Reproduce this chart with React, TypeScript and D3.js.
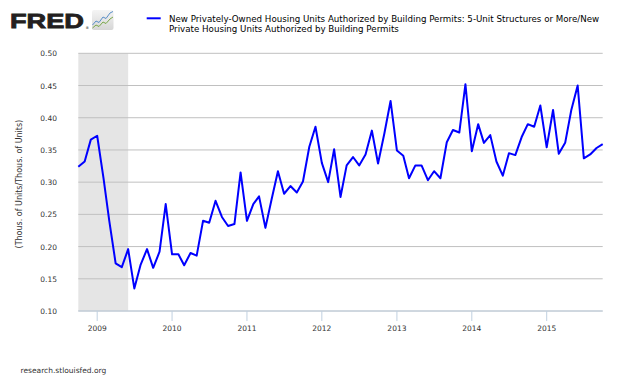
import React from "react";
import * as d3 from "d3";

const startMonth = "2008-10-01";
const ratioValues: number[] = [
  0.324, 0.332, 0.366, 0.372, 0.306, 0.240, 0.174, 0.168, 0.196, 0.135,
  0.172, 0.196, 0.167, 0.192, 0.266, 0.188, 0.188, 0.171, 0.190, 0.186,
  0.240, 0.237, 0.271, 0.246, 0.232, 0.235, 0.315, 0.240, 0.266, 0.278,
  0.229, 0.273, 0.317, 0.282, 0.294, 0.284, 0.301, 0.355, 0.386, 0.330,
  0.300, 0.351, 0.277, 0.326, 0.339, 0.326, 0.343, 0.380, 0.329, 0.376,
  0.426, 0.349, 0.341, 0.306, 0.326, 0.326, 0.303, 0.317, 0.306, 0.362,
  0.381, 0.377, 0.452, 0.348, 0.390, 0.361, 0.373, 0.332, 0.310, 0.345,
  0.342, 0.370, 0.390, 0.386, 0.419, 0.354, 0.412, 0.344, 0.361, 0.412,
  0.450, 0.337, 0.343, 0.353, 0.359,
];
const yTicks: number[] = [0.1, 0.15, 0.2, 0.25, 0.3, 0.35, 0.4, 0.45, 0.5];
const xTickYears: number[] = [2009, 2010, 2011, 2012, 2013, 2014, 2015];
const recession = { start: "2007-12-01", end: "2009-06-01" };
const legendLines: string[] = [
  "New Privately-Owned Housing Units Authorized by Building Permits: 5-Unit Structures or More/New",
  "Private Housing Units Authorized by Building Permits",
];
const yAxisTitle = "(Thous. of Units/Thous. of Units)";
const footer = "research.stlouisfed.org";

const W = 630;
const H = 378;
const plot = { left: 78.3, right: 602.7, top: 53.3, bottom: 311 };
const FONT = "'DejaVu Sans', sans-serif";

export default function App() {
  const start = new Date(startMonth + "T00:00:00");
  const dates = ratioValues.map((_, i) => d3.timeMonth.offset(start, i));
  const data = ratioValues.map((v, i) => ({ date: dates[i], v }));

  const x = d3
    .scaleTime()
    .domain([dates[0], dates[dates.length - 1]])
    .range([plot.left, plot.right]);
  const y = d3.scaleLinear().domain([0.1, 0.5]).range([plot.bottom, plot.top]);

  const line = d3
    .line<{ date: Date; v: number }>()
    .x((d) => x(d.date))
    .y((d) => y(d.v));

  const recStart = Math.max(plot.left, x(new Date(recession.start + "T00:00:00")));
  const recEnd = x(new Date(recession.end + "T00:00:00"));

  return (
    <div style={{ position: "fixed", left: 0, top: 0, width: W, height: H, background: "#fff" }}>
      <svg width={W} height={H} style={{ display: "block" }}>
        <rect x={0} y={0} width={W} height={H} fill="#fff" />
        {/* FRED logo */}
        <text
          x={10}
          y={27.8}
          fontFamily="'Liberation Sans', Arial, sans-serif"
          fontWeight={900}
          fontSize={20}
          fill="#231f20"
          textLength={74}
          lengthAdjust="spacingAndGlyphs"
          stroke="#231f20"
          strokeWidth={0.8}
        >
          FRED
        </text>
        <text x={85.5} y={28.5} fontFamily={FONT} fontSize={3.5} fill="#231f20">
          ®
        </text>
        <defs>
          <linearGradient id="iconbg" x1="0" y1="0" x2="0" y2="1">
            <stop offset="0" stopColor="#f4f4f4" />
            <stop offset="1" stopColor="#d6d6d6" />
          </linearGradient>
        </defs>
        <rect x={92} y={10} width={21.5} height={20} rx={2} fill="url(#iconbg)" />
        <polyline
          points="92.5,25 96,21 99,22.5 103,17 106,18.5 110,13 113,11.5"
          fill="none"
          stroke="#5a8fc8"
          strokeWidth={1}
        />
        <polyline
          points="92.5,28 96,25 99,26.5 103,22 106,23.5 110,19 113,17"
          fill="none"
          stroke="#7aa84a"
          strokeWidth={1}
        />

        {/* legend */}
        <line x1={146.7} x2={160.7} y1={18.3} y2={18.3} stroke="#0000ff" strokeWidth={2} />
        {legendLines.map((t, i) => (
          <text key={i} x={169} y={21.5 + i * 10.8} fontFamily={FONT} fontSize={8.7} fill="#000">
            {t}
          </text>
        ))}

        {/* recession band */}
        <rect
          x={recStart}
          y={plot.top}
          width={recEnd - recStart}
          height={plot.bottom - plot.top}
          fill="#e5e5e5"
        />

        {/* gridlines */}
        {yTicks.map((t) => (
          <line
            key={t}
            x1={plot.left}
            x2={plot.right}
            y1={y(t)}
            y2={y(t)}
            stroke="#c0c0c0"
            strokeWidth={1}
          />
        ))}
        {/* y tick labels */}
        {yTicks.map((t) => (
          <text
            key={"l" + t}
            x={57}
            y={y(t) + 3}
            textAnchor="end"
            fontFamily={FONT}
            fontSize={7.5}
            fill="#333"
          >
            {d3.format(".2f")(t)}
          </text>
        ))}
        {/* y title */}
        <text
          transform={`translate(22,${(plot.top + plot.bottom) / 2 + 2}) rotate(-90)`}
          textAnchor="middle"
          fontFamily={FONT}
          fontSize={8}
          fill="#333"
        >
          {yAxisTitle}
        </text>

        {/* x axis */}
        <line x1={plot.left} x2={plot.right} y1={plot.bottom} y2={plot.bottom} stroke="#c0d0e0" strokeWidth={1} />
        {xTickYears.map((yr) => {
          const xp = x(new Date(yr, 0, 1));
          return (
            <g key={yr}>
              <line x1={xp} x2={xp} y1={plot.bottom} y2={plot.bottom + 10} stroke="#c0d0e0" strokeWidth={1} />
              <text x={xp} y={331} textAnchor="middle" fontFamily={FONT} fontSize={7.5} fill="#333">
                {yr}
              </text>
            </g>
          );
        })}

        {/* data line */}
        <path d={line(data) || ""} fill="none" stroke="#0000ff" strokeWidth={2} strokeLinejoin="round" />

        {/* footer */}
        <text x={20.5} y={373} fontFamily={FONT} fontSize={7.5} fill="#333">
          {footer}
        </text>
      </svg>
    </div>
  );
}
